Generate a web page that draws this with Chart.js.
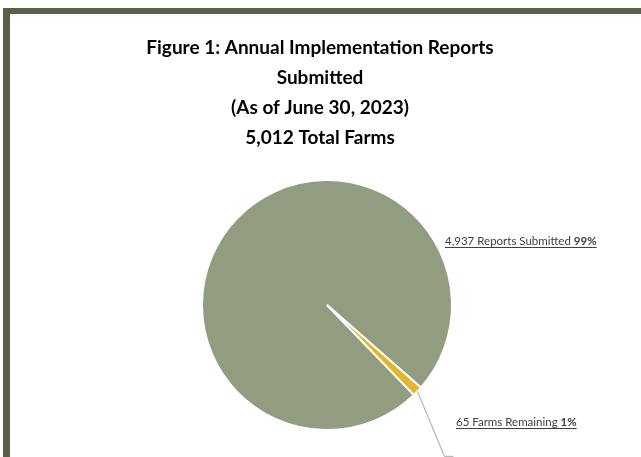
<!DOCTYPE html>
<html>
<head>
<meta charset="utf-8">
<script src="https://cdn.jsdelivr.net/npm/chart.js@4/dist/chart.umd.min.js"></script>
<style>
  body { margin: 0; background: #fff; }
  #wrap { position: relative; width: 641px; height: 457px; overflow: hidden; }
  #frame {
    position: absolute; left: 3px; top: 8px; width: 700px; height: 500px;
    border-top: 6px solid #566241; border-left: 7px solid #566241;
  }
  #pie { position: absolute; left: 0; top: 0; }
</style>
</head>
<body>
<div id="wrap">
  <div id="frame"></div>
  <canvas id="pie" width="641" height="457"></canvas>
</div>
<script>
// data
var categories = ["Reports Submitted", "Farms Remaining"];
var farmCounts = [4937, 65];
var titleLines = [
  "Figure 1: Annual Implementation Reports",
  "Submitted",
  "(As of June 30, 2023)",
  "5,012 Total Farms",
];

var total = farmCounts.reduce(function (a, b) { return a + b; }, 0);

function pct(v) {
  return Math.round((v / total) * 100) + "%";
}

// title is drawn by hand: in the original it sits a little left of the pie
var titleBlock = {
  id: "titleBlock",
  afterDraw: function (chart) {
    var ctx = chart.ctx;
    ctx.save();
    ctx.fillStyle = "#000000";
    ctx.font = "bold 19px Lato";
    ctx.textAlign = "center";
    ctx.textBaseline = "middle";
    titleLines.forEach(function (line, i) {
      ctx.fillText(line, 320, 48 + i * 30);
    });
    ctx.restore();
  },
};

// draws "<count> <name> <pct>" labels, underlined, with a leader for the small slice
var sliceLabels = {
  id: "sliceLabels",
  afterDatasetsDraw: function (chart) {
    var ctx = chart.ctx;
    var arcs = chart.getDatasetMeta(0).data;
    var big = arcs[0].getProps(["x", "y", "outerRadius"], true);
    var small = arcs[1].getProps(["x", "y", "startAngle", "endAngle", "outerRadius"], true);

    function label(i, x, y) {
      var first = farmCounts[i].toLocaleString("en-US") + " " + categories[i] + " ";
      if (i == 1) first = farmCounts[i] + " Farms Remaining ";
      var second = pct(farmCounts[i]);
      ctx.save();
      ctx.fillStyle = "#404040";
      ctx.strokeStyle = "#404040";
      ctx.textBaseline = "alphabetic";
      ctx.font = "11.5px Lato";
      ctx.fillText(first, x, y);
      var w1 = ctx.measureText(first).width;
      ctx.font = "bold 11.5px Lato";
      ctx.fillText(second, x + w1, y);
      var w2 = ctx.measureText(second).width;
      ctx.lineWidth = 1;
      ctx.beginPath();
      ctx.moveTo(x, Math.round(y + 2) + 0.5);
      ctx.lineTo(x + w1 + w2, Math.round(y + 2) + 0.5);
      ctx.stroke();
      ctx.restore();
    }

    label(0, big.x + 118, big.y - 60);
    label(1, big.x + 129, big.y + 121);

    // leader line from the small slice
    var mid = (small.startAngle + small.endAngle) / 2;
    var sx = small.x + Math.cos(mid) * small.outerRadius;
    var sy = small.y + Math.sin(mid) * small.outerRadius;
    ctx.save();
    ctx.strokeStyle = "#a6a6a6";
    ctx.lineWidth = 1;
    ctx.beginPath();
    ctx.moveTo(sx, sy);
    ctx.lineTo(sx + 27, sy + 65);
    ctx.lineTo(sx + 36, sy + 65);
    ctx.stroke();
    ctx.restore();
  },
};

var ctx = document.getElementById("pie").getContext("2d");
var chart = new Chart(ctx, {
  type: "pie",
  data: {
    labels: categories,
    datasets: [
      {
        data: farmCounts,
        backgroundColor: ["#929C80", "#E3B52A"],
        borderColor: "#ffffff",
        borderWidth: 2,
      },
    ],
  },
  options: {
    responsive: false,
    animation: false,
    rotation: 136,
    layout: { padding: { left: 13, right: 0, top: 179, bottom: 26 } },
    plugins: {
      legend: { display: false },
      tooltip: { enabled: false },
      title: { display: false },
    },
  },
  plugins: [sliceLabels, titleBlock],
});
</script>
</body>
</html>
